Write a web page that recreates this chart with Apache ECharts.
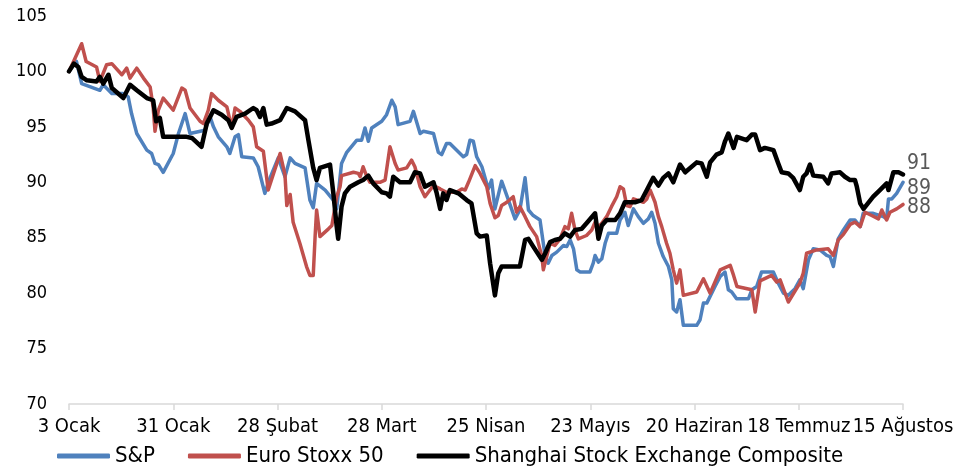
<!DOCTYPE html>
<html>
<head>
<meta charset="utf-8">
<script src="https://cdn.jsdelivr.net/npm/echarts@6/dist/echarts.min.js"></script>
<style>
  html, body { margin: 0; padding: 0; background: #fff; }
  #main { width: 964px; height: 472px; }
</style>
</head>
<body>
<div id="main"></div>
<script>
// gün sayısı (3 Ocak = 0) ve endeks değeri (3 Ocak = 100)
var tickLabels = ['3 Ocak', '31 Ocak', '28 Şubat', '28 Mart', '25 Nisan', '23 Mayıs', '20 Haziran', '18 Temmuz', '15 Ağustos'];
var seriesNames = ['S&P', 'Euro Stoxx 50', 'Shanghai Stock Exchange Composite'];
var endLabels = ['89', '88', '91'];

var spData = [
  [0,100],[2,100.9],[3.4,98.9],[8.3,98.3],[9.2,98.8],[11.5,98.0],[14.6,98.0],[15.9,97.7],[16.8,96.2],[18.2,94.4],
  [20.9,92.9],[22.2,92.6],[23.1,91.7],[24,91.6],[25.3,90.9],[28,92.6],[29.4,94.4],[31.2,96.2],[32.5,94.4],[36.5,94.7],
  [37.9,95.9],[38.8,95.0],[40.1,94.1],[42.4,93.2],[43.2,92.6],[44.6,94.1],[45.5,94.3],[46.4,92.3],[49.5,92.2],[50.8,91.4],
  [52.6,89.0],[54,90.4],[56.2,92.2],[58,90.5],[59.4,92.2],[60.7,91.7],[63.4,91.3],[64.7,88.4],[65.6,87.7],[66.5,89.9],
  [68.8,89.3],[71,88.4],[71.9,87.6],[73.2,91.7],[74.6,92.7],[77.3,93.8],[78.6,93.8],[79.5,94.9],[80.4,93.7],[81.3,94.9],
  [84,95.5],[85.3,96.1],[86.7,97.4],[87.6,96.8],[88.4,95.2],[91.6,95.5],[92.5,96.4],[94.3,94.4],[95.2,94.6],[97.9,94.4],
  [99.2,92.7],[100.1,92.5],[101.4,93.5],[102.3,93.5],[105.9,92.3],[106.8,92.5],[107.7,93.8],[108.6,93.7],[109.5,92.3],[110.9,91.4],
  [112.6,89.4],[113.5,90.2],[114.4,87.6],[116.2,90.1],[117.6,88.8],[119.8,86.7],[121.1,87.5],[122.5,90.4],[123.4,87.5],[124.7,87.0],
  [126.5,86.6],[127.9,83.3],[128.7,82.7],[129.7,83.4],[131,83.7],[132.8,84.3],[133.7,84.2],[134.6,84.8],[135.5,84.0],[136.4,82.1],
  [137.3,81.9],[139.9,81.9],[140.8,82.7],[141.3,83.4],[142.2,82.8],[143.1,83.1],[144,84.5],[144.9,85.4],[147.1,85.4],[148,86.6],
  [149.3,87.3],[150.2,86.1],[151.6,87.6],[152.9,86.9],[154.3,86.3],[155.6,86.7],[156.5,87.3],[157.4,86.3],[158.3,84.5],[159.6,83.3],
  [161,82.4],[161.9,81.2],[162.3,78.6],[163.2,78.3],[164.1,79.4],[165,77.1],[168.6,77.1],[169.5,77.6],[170.4,79.1],[171.3,79.1],
  [173.5,80.6],[174.9,81.5],[176.2,81.9],[177.1,80.3],[178,80.1],[179.3,79.5],[182.5,79.5],[183.4,80.3],[184.7,80.6],[186,81.9],
  [189.2,81.9],[190.5,80.9],[191.9,80.0],[193.2,79.8],[195,80.4],[196.3,81.2],[197.2,80.4],[198.6,83.0],[199.9,84.0],[201.7,83.9],
  [203.5,83.4],[204.4,83.3],[205.3,82.4],[206.6,84.9],[208,85.7],[209.8,86.6],[211.1,86.6],[212.5,86.0],[213.3,87.2],[216,87.2],
  [218.7,86.9],[219.6,86.7],[220.1,88.5],[221,88.5],[222.3,89.0],[224,90.0]
];

var euroData = [
  [0,100],[3.4,102.5],[4.6,100.9],[7.4,100.4],[8.3,99.1],[10.1,100.6],[11.5,100.7],[14.2,99.7],[15.5,100.3],[16.4,99.4],
  [18.2,100.3],[20,99.4],[21.8,98.6],[22.6,96.8],[23.1,94.6],[24,96.5],[25.3,97.6],[28,96.5],[30.3,98.5],[31.2,98.3],
  [32.5,96.7],[35.2,95.5],[36.1,95.3],[37.4,96.5],[38.3,98.0],[40.1,97.4],[42.4,96.8],[43.7,94.9],[44.6,96.7],[45.9,96.4],
  [48.2,95.6],[49.5,95.0],[50.4,93.2],[52.2,92.8],[53.5,89.3],[56.7,92.6],[58,90.7],[58.5,87.9],[59.4,88.9],[60.2,86.4],
  [62,84.5],[63.8,82.4],[64.7,81.6],[65.6,81.6],[66.1,85.1],[66.5,87.5],[67.4,85.1],[69.7,85.8],[70.6,86.1],[71.9,88.7],
  [72.8,89.6],[73.2,90.6],[76.4,90.9],[77.7,90.8],[78.2,90.5],[79,91.4],[80,90.5],[80.8,90.0],[83.5,90.0],[84.9,90.2],
  [86.2,93.2],[87.6,91.7],[88.4,91.1],[90.7,91.3],[92,92.0],[92.9,91.4],[94.3,89.6],[95.6,88.7],[96.5,89.1],[97.9,89.7],
  [99.7,89.4],[101.4,89.1],[104.1,89.1],[105.5,89.4],[106.4,89.3],[107.3,90.0],[109.1,91.5],[110.4,90.8],[112.2,89.6],[113.1,88.1],
  [114.4,86.8],[115.3,87.0],[116.2,87.9],[117.6,88.2],[119.3,88.7],[120.2,87.3],[121.1,87.8],[122.5,86.9],[123.8,86.0],[125.6,85.1],
  [127,83.3],[127.4,82.1],[128.3,83.3],[129.2,84.5],[130.5,84.3],[131.9,84.9],[133.2,86.0],[134.1,85.8],[135,87.2],[135.9,85.7],
  [136.8,84.9],[139,85.2],[140.4,85.7],[141.3,86.4],[142.2,86.0],[143.1,86.3],[144.4,86.9],[145.7,87.8],[147.1,88.7],[148,89.6],
  [148.9,89.4],[149.8,87.9],[150.7,87.8],[151.6,88.5],[154.3,88.2],[155.2,88.5],[156.1,89.3],[157.4,88.2],[158.3,86.9],[159.2,86.0],
  [160.5,84.5],[161.4,83.6],[162.3,82.1],[163.2,80.9],[164.1,82.1],[165,79.8],[168.6,80.1],[170.4,81.3],[172.2,80.0],[174.9,82.1],
  [177.6,82.5],[178.5,81.6],[179.4,80.6],[183.4,80.3],[184.3,78.3],[185.6,81.1],[188.7,81.6],[190.1,81.0],[191,81.2],[193.2,79.2],
  [196.3,80.9],[197.2,81.8],[198.1,83.6],[200.8,83.9],[203.9,84.0],[205.3,83.4],[206.6,84.8],[208,85.3],[209.8,86.2],[211.1,86.4],
  [212.5,86.0],[213.8,87.3],[215.6,87.0],[217.4,86.7],[218.3,87.5],[219.6,86.6],[220.5,87.3],[222.3,87.6],[224,88.0]
];

var shanghaiData = [
  [0,100],[1.3,100.7],[2.5,100.4],[3.4,99.5],[4.8,99.2],[7.4,99.1],[8.3,99.5],[9.2,98.9],[10.6,99.7],[11.5,98.5],
  [14.6,97.6],[16.4,98.8],[18.2,98.3],[20.9,97.6],[22.6,97.4],[23.4,95.5],[24.4,95.8],[25.3,94.1],[31.6,94.1],[33,94.0],
  [35.6,93.2],[37,95.3],[38.8,96.5],[41,96.1],[42.8,95.6],[43.7,94.9],[45,95.9],[47.3,96.2],[49.5,96.7],[50.4,96.5],
  [51.3,95.9],[52.2,96.7],[53.1,95.2],[54.4,95.3],[56.7,95.6],[58.5,96.7],[60.7,96.4],[63.4,95.6],[64.3,93.8],[65.6,91.3],
  [66.5,90.2],[67.4,91.3],[70.1,91.6],[71,89.0],[71.9,86.0],[72.3,84.9],[73.2,87.8],[74.1,89.0],[75.5,89.6],[77.7,90.0],
  [79,90.2],[80.4,90.6],[81.7,89.9],[84,89.1],[85.3,89.0],[86.2,88.7],[87.1,90.5],[88.9,90.0],[91.6,90.0],[92.9,90.9],
  [94.3,90.8],[95.6,89.6],[97.9,90.0],[98.7,89.1],[99.7,87.6],[100.5,89.0],[101.4,88.4],[102.3,89.3],[104.6,89.0],[106.8,88.4],
  [108.1,88.1],[109.5,85.4],[110.4,85.1],[112.2,85.2],[113.1,82.7],[114.4,79.8],[115.3,81.8],[116.2,82.4],[121.1,82.4],[122.5,84.8],
  [123.4,84.9],[124.7,84.2],[127,83.0],[127.9,83.6],[129.2,84.6],[130.5,84.8],[131.9,84.9],[133.2,85.4],[134.6,85.1],[135.9,85.7],
  [137.7,85.8],[139,86.3],[141.3,87.2],[142.2,84.9],[143.1,86.1],[144.4,86.6],[146.7,86.6],[148,87.2],[149.3,88.2],[152,88.2],
  [153.8,88.4],[155.2,89.3],[156.9,90.4],[158.3,89.7],[159.6,90.4],[161,90.8],[162.3,90.0],[164.1,91.6],[165.5,90.9],[168.6,91.8],
  [169.9,91.7],[171.3,90.5],[172.2,91.8],[173.9,92.5],[175.3,92.7],[176.2,93.7],[177.1,94.4],[178.5,93.1],[179.4,94.1],[182,93.8],
  [183.4,94.3],[184.3,94.3],[185.6,92.9],[186.9,93.1],[189.2,92.9],[190.5,91.7],[191.4,90.9],[193.2,90.8],[194.5,90.4],[196.3,89.3],
  [197.2,90.5],[198.1,90.8],[199,91.6],[199.9,90.6],[202.6,90.5],[203.9,89.9],[204.8,90.8],[207.1,90.9],[208.4,90.5],[209.8,90.2],
  [211.1,90.2],[211.6,89.6],[212.5,88.1],[213.4,87.6],[216,88.7],[217.8,89.3],[219.6,89.9],[220.1,89.3],[221.4,90.9],[222.8,90.9],
  [224,90.7]
];

var FONT = "'DejaVu Sans Condensed', 'DejaVu Sans', sans-serif";
var colors = ['#4f81bd', '#c0504d', '#000000'];
var labelOffsets = [[0, 6], [0, 3], [0, -11]];
var allData = [spData, euroData, shanghaiData];

var myChart = echarts.init(document.getElementById('main'));

function makeSeries(i) {
  return {
    name: seriesNames[i],
    type: 'line',
    data: allData[i],
    symbol: 'none',
    animation: false,
    lineStyle: { color: colors[i], width: i === 2 ? 4.5 : 3.5, join: 'round', cap: 'round' },
    itemStyle: { color: colors[i] },
    endLabel: {
      show: true,
      formatter: function () { return endLabels[i]; },
      color: '#595959',
      fontFamily: FONT,
      fontSize: 21,
      distance: 4,
      offset: labelOffsets[i]
    }
  };
}

var option = {
  backgroundColor: '#ffffff',
  animation: false,
  grid: { left: 69, right: 61, top: 16, bottom: 68 },
  legend: {
    left: 57,
    top: 445,
    padding: 0,
    icon: 'roundRect',
    itemWidth: 53,
    itemHeight: 5,
    itemGap: 33,
    textStyle: { color: '#000', fontFamily: FONT, fontSize: 22 },
    data: seriesNames
  },
  xAxis: {
    type: 'value',
    min: 0,
    max: 224,
    interval: 28,
    splitLine: { show: false },
    axisLine: { lineStyle: { color: '#d9d9d9', width: 1.5 } },
    axisTick: { show: true, length: 6, lineStyle: { color: '#d9d9d9', width: 1.5 } },
    axisLabel: {
      color: '#000',
      fontFamily: FONT,
      fontSize: 20,
      margin: 13,
      showMinLabel: true,
      showMaxLabel: true,
      formatter: function (v) { return tickLabels[Math.round(v / 28)]; }
    }
  },
  yAxis: {
    type: 'value',
    min: 70,
    max: 105,
    interval: 5,
    splitLine: { show: false },
    axisLine: { show: false },
    axisTick: { show: false },
    axisLabel: { color: '#000', fontFamily: FONT, fontSize: 18, margin: 22 }
  },
  series: [makeSeries(0), makeSeries(1), makeSeries(2)]
};

myChart.setOption(option);
</script>
</body>
</html>
